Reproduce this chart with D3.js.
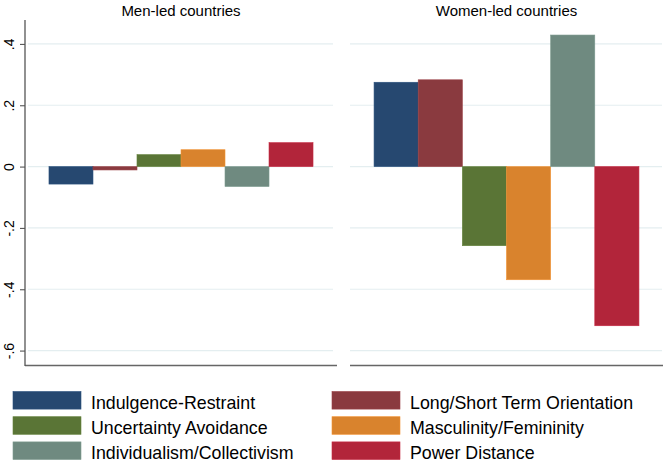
<!DOCTYPE html>
<html>
<head>
<meta charset="utf-8">
<script src="https://cdn.jsdelivr.net/npm/d3@7/dist/d3.min.js"></script>
<style>
  html, body { margin: 0; padding: 0; background: #fff; }
  svg { display: block; font-family: "Liberation Sans", Arial, Helvetica, sans-serif; }
</style>
</head>
<body>
<svg id="chart" width="666" height="464"></svg>
<script>
// ---- data ----
const dimensions = ["Indulgence-Restraint", "Long/Short Term Orientation", "Uncertainty Avoidance",
                    "Masculinity/Femininity", "Individualism/Collectivism", "Power Distance"];
const panels = ["Men-led countries", "Women-led countries"];
const menLed   = [-0.057, -0.011, 0.039, 0.055, -0.065, 0.078];
const womenLed = [0.275, 0.283, -0.258, -0.369, 0.429, -0.519];
const yTicks = [0.4, 0.2, 0, -0.2, -0.4, -0.6];
const yTickLabels = [".4", ".2", "0", "-.2", "-.4", "-.6"];
const colors = ["#264870", "#8a3a3f", "#5a7536", "#d9832d", "#6f8a80", "#b2253a"];
// legend order (two columns, three rows)
const legendOrder = [0, 1, 2, 3, 4, 5];

const svg = d3.select("#chart");

const y = d3.scaleLinear().domain([-0.647, 0.478]).range([365, 20]);
const panelRanges = [[25, 337], [350, 663]];
const seriesValues = [menLed, womenLed];

panels.forEach((title, pi) => {
  const [x0, x1] = panelRanges[pi];
  const x = d3.scaleBand().domain(dimensions).range([x0, x1]).paddingInner(0).paddingOuter(0.545);
  const g = svg.append("g");

  // gridlines
  g.selectAll("line.grid").data(yTicks).enter().append("line")
    .attr("x1", pi === 0 ? x0 + 3 : x0).attr("x2", pi === 0 ? x1 - 4 : x1 - 1)
    .attr("y1", d => y(d)).attr("y2", d => y(d))
    .attr("stroke", "#e4eef0").attr("stroke-width", 1.2);

  // bars
  g.selectAll("rect.bar").data(seriesValues[pi]).enter().append("rect")
    .attr("x", (d, i) => x(dimensions[i]))
    .attr("width", x.bandwidth())
    .attr("y", d => y(Math.max(0, d)))
    .attr("height", d => Math.abs(y(d) - y(0)))
    .attr("fill", (d, i) => colors[i])
    .attr("stroke", (d, i) => d3.color(colors[i]).brighter(0.3))
    .attr("stroke-width", 0.6);

  // bottom axis line
  g.append("line")
    .attr("x1", x0).attr("x2", x1).attr("y1", 365.5).attr("y2", 365.5)
    .attr("stroke", "#666").attr("stroke-width", 1.4);

  // title
  g.append("text")
    .attr("x", (x0 + x1) / 2).attr("y", 16)
    .attr("text-anchor", "middle")
    .attr("font-size", 15).attr("fill", "#000")
    .text(title);

  if (pi === 0) {
    const axis = d3.axisLeft(y).tickValues(yTicks).tickSize(5).tickFormat((d, i) => yTickLabels[i]);
    const ag = g.append("g").attr("transform", `translate(${x0},0)`).call(axis);
    ag.select(".domain").attr("stroke", "#555").attr("stroke-width", 1.3)
      .attr("d", `M0,${y.range()[1]}V${y.range()[0] + 1}`);
    ag.selectAll(".tick line").attr("stroke", "#555").attr("stroke-width", 1.1);
    ag.selectAll(".tick text")
      .attr("x", null).attr("dy", null)
      .attr("transform", "translate(-11.5,0) rotate(-90)")
      .attr("text-anchor", "middle")
      .attr("font-size", 14).attr("fill", "#000")
      .attr("font-family", "'Liberation Sans', Arial, sans-serif");
  }
});

// legend
const legend = svg.append("g");
const legendItems = legend.selectAll("g.item").data(legendOrder).enter().append("g")
  .attr("transform", (d, k) => `translate(${k % 2 === 0 ? 13 : 332},${391.5 + Math.floor(k / 2) * 25.2})`);
legendItems.append("rect")
  .attr("width", 68).attr("height", 17.6)
  .attr("fill", d => colors[d])
  .attr("stroke", d => d3.color(colors[d]).brighter(0.3)).attr("stroke-width", 0.6);
legendItems.append("text")
  .attr("x", 78).attr("y", 17)
  .attr("font-size", 17.8).attr("fill", "#000")
  .text(d => dimensions[d]);
</script>
</body>
</html>
